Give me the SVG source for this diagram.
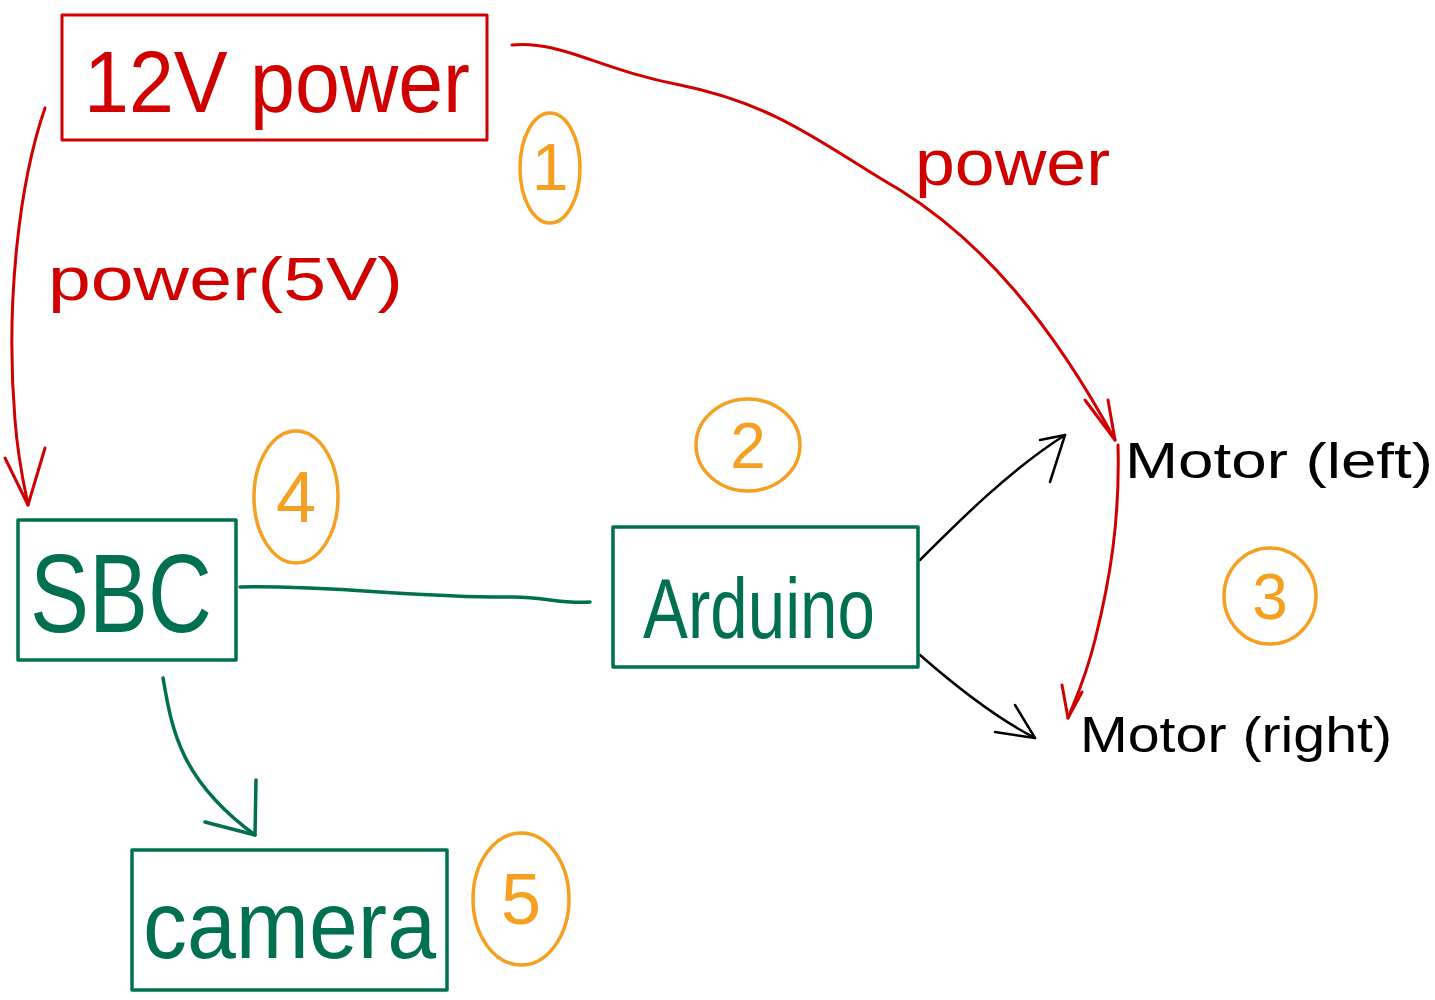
<svg xmlns="http://www.w3.org/2000/svg" width="1435" height="1000" viewBox="0 0 1435 1000">
<defs>
<style>
.red{fill:none;stroke:#d00000;stroke-width:3;stroke-linecap:round;stroke-linejoin:round}
.grn{fill:none;stroke:#007050;stroke-width:3.5;stroke-linecap:round;stroke-linejoin:round}
.blk{fill:none;stroke:#000;stroke-width:2.5;stroke-linecap:round;stroke-linejoin:round}
.org{fill:none;stroke:#f5a020;stroke-width:3.5}
.t{font-family:"Liberation Sans",Arial,sans-serif}
.tr{fill:#d00000}
.tg{fill:#007050}
.tb{fill:#000}
.to{fill:#f5a020}
</style>
<marker id="ar" markerWidth="14" markerHeight="14" refX="12" refY="7" orient="auto" markerUnits="userSpaceOnUse"><path d="M1,1 L12,7 L1,13" fill="none" stroke="#d00000" stroke-width="3"/></marker>
<marker id="ag" markerWidth="30" markerHeight="30" refX="26" refY="15" orient="auto" markerUnits="userSpaceOnUse"><path d="M2,3 L26,15 L2,27" fill="none" stroke="#007050" stroke-width="3.5"/></marker>
<marker id="ab" markerWidth="30" markerHeight="30" refX="26" refY="15" orient="auto" markerUnits="userSpaceOnUse"><path d="M2,4 L26,15 L2,26" fill="none" stroke="#000" stroke-width="2.5"/></marker>
</defs>
<rect width="1435" height="1000" fill="#fff"/>

<g id="connectors">
<path class="red" d="M45,108 C20,180 5,300 15,420 C18,460 25,490 28,505"/>
<path class="red" d="M5,458 L28,505 L45,448"/>
<path class="red" d="M512,45 C560,40 600,70 680,85 C780,105 830,150 900,190 C980,240 1050,320 1115,440"/>
<path class="red" d="M1085,400 L1115,440 L1108,400"/>
<path class="red" d="M1118,445 C1120,520 1110,580 1095,640 C1085,680 1075,700 1068,718"/>
<path class="red" d="M1062,685 L1068,718 L1082,692"/>
<path class="grn" d="M240,587 C330,585 420,598 510,597 C540,596 560,604 590,602"/>
<path class="grn" d="M163,678 C172,730 180,780 255,835"/>
<path class="grn" d="M205,822 L255,835 L256,780"/>
<path class="blk" d="M920,560 C960,520 1010,470 1065,435"/>
<path class="blk" d="M1040,440 L1065,435 L1050,482"/>
<path class="blk" d="M920,655 C960,690 1000,720 1035,738"/>
<path class="blk" d="M1015,705 L1035,738 L995,732"/>
</g>

<g id="power12v">
<rect x="62" y="15" width="425" height="125" class="red"/>
<text x="84" y="112" class="t tr" font-size="88" textLength="386" lengthAdjust="spacingAndGlyphs">12V power</text>
</g>

<g id="label-power5v">
<text x="48" y="300" class="t tr" font-size="62" textLength="355" lengthAdjust="spacingAndGlyphs">power(5V)</text>
</g>

<g id="label-power">
<text x="915" y="185" class="t tr" font-size="64" textLength="195" lengthAdjust="spacingAndGlyphs">power</text>
</g>

<g id="sbc">
<rect x="18" y="520" width="218" height="140" class="grn"/>
<text x="30" y="632" class="t tg" font-size="112" textLength="182" lengthAdjust="spacingAndGlyphs">SBC</text>
</g>

<g id="arduino">
<rect x="613" y="527" width="305" height="140" class="grn"/>
<text x="643" y="638" class="t tg" font-size="86" textLength="232" lengthAdjust="spacingAndGlyphs">Arduino</text>
</g>

<g id="camera">
<rect x="132" y="850" width="315" height="140" class="grn"/>
<text x="143" y="958" class="t tg" font-size="96" textLength="293" lengthAdjust="spacingAndGlyphs">camera</text>
</g>

<g id="motor-left">
<text x="1125" y="478" class="t tb" font-size="50" textLength="308" lengthAdjust="spacingAndGlyphs">Motor (left)</text>
</g>

<g id="motor-right">
<text x="1080" y="752" class="t tb" font-size="50" textLength="312" lengthAdjust="spacingAndGlyphs">Motor (right)</text>
</g>

<g id="n1"><ellipse cx="550" cy="168" rx="30" ry="55" class="org"/><text x="550" y="190" text-anchor="middle" class="t to" font-size="66">1</text></g>
<g id="n2"><ellipse cx="748" cy="445" rx="52" ry="46" class="org"/><text x="748" y="468" text-anchor="middle" class="t to" font-size="64">2</text></g>
<g id="n3"><ellipse cx="1270" cy="596" rx="46" ry="48" class="org"/><text x="1270" y="619" text-anchor="middle" class="t to" font-size="64">3</text></g>
<g id="n4"><ellipse cx="296" cy="497" rx="42" ry="66" class="org"/><text x="296" y="522" text-anchor="middle" class="t to" font-size="72">4</text></g>
<g id="n5"><ellipse cx="521" cy="899" rx="48" ry="66" class="org"/><text x="521" y="924" text-anchor="middle" class="t to" font-size="72">5</text></g>
</svg>
